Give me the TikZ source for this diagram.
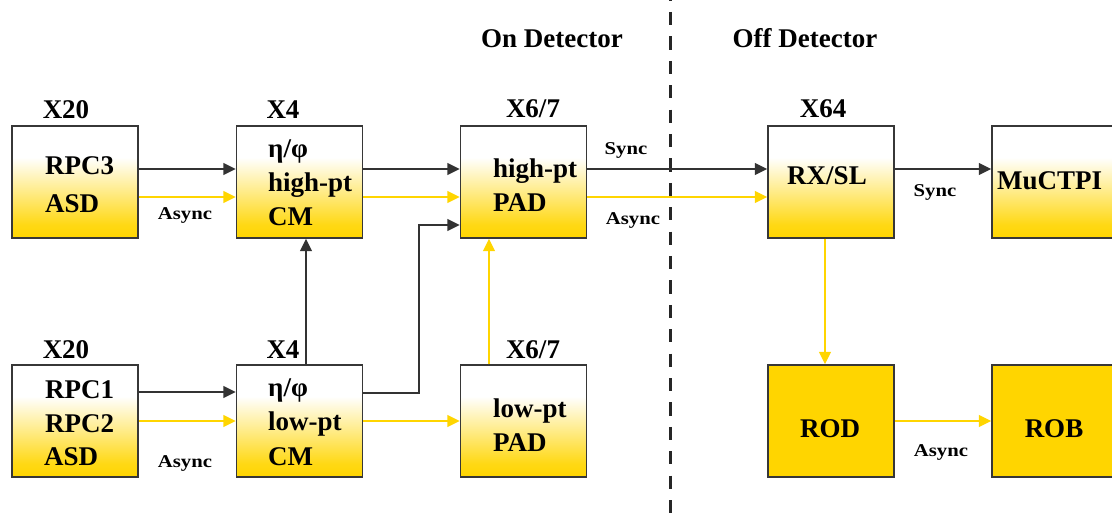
\documentclass[tikz,border=0pt]{standalone}
\usepackage{fontspec}
\setmainfont{Liberation Serif}
\usetikzlibrary{arrows.meta}
\definecolor{gold}{RGB}{255,213,0}
\definecolor{edge}{RGB}{55,55,55}
\pgfdeclareverticalshading{boxshade}{100bp}{color(0bp)=(gold); color(25bp)=(gold); color(31bp)=(gold!92!white); color(61bp)=(white); color(100bp)=(white)}
\newcommand{\bigtxt}{\fontsize{27}{30}\selectfont\bfseries}
\newcommand{\smalltxt}{\fontsize{18}{20}\selectfont\bfseries}
\tikzset{
  unit/.style={rectangle, draw=edge, line width=1.5pt, minimum width=126pt, minimum height=112pt, inner sep=0pt},
  gradbox/.style={unit, shade, shading=boxshade},
  solidbox/.style={unit, fill=gold},
  line/.style={anchor=base west, inner sep=0pt, font=\bigtxt},
  title/.style={anchor=base, inner sep=0pt, font=\bigtxt},
  tag/.style={anchor=base, inner sep=0pt, font=\smalltxt, xscale=1.15},
  tip/.style={-{Triangle[length=12.5pt,width=12pt]}},
  sig/.style={tip, draw=black!80, line width=1.7pt},
  asig/.style={tip, draw=gold, line width=1.5pt},
}
\begin{document}
\begin{tikzpicture}[x=1pt,y=-1pt]
\useasboundingbox (0,0) rectangle (1112,513);

% boundary between on- and off-detector electronics
\coordinate (cutTop) at (670,0);
\coordinate (cutBot) at (670,513);
\draw[line width=3pt, black!85, dash pattern=on 13.2pt off 11.2pt, dash phase=12.4pt] (cutTop) -- (cutBot);
\node[title] (on)  at (552,48) {On Detector};
\node[title] (off) at (805,48) {Off Detector};

% boxes, upper row
\node[gradbox] (rpc3) at (75,182) {};
\node[gradbox] (hcm)  at (299.5,182) {};
\node[gradbox] (hpad) at (523.5,182) {};
\node[gradbox] (rx)   at (831,182) {};
\node[gradbox] (mu)   at (1055,182) {};
% boxes, lower row
\node[gradbox]  (rpc12) at (75,421) {};
\node[gradbox]  (lcm)   at (299.5,421) {};
\node[gradbox]  (lpad)  at (523.5,421) {};
\node[solidbox] (rod)   at (831,421) {};
\node[solidbox] (rob)   at (1055,421) {};

% multiplicities
\node[title] (m1) at (66,119)  {X20};
\node[title] (m2) at (283,119) {X4};
\node[title] (m3) at (533,118) {X6/7};
\node[title] (m4) at (823,118) {X64};
\node[title] (m5) at (66,358)  {X20};
\node[title] (m6) at (283,358) {X4};
\node[title] (m7) at (533,358) {X6/7};

% box contents
\node[line] (t1a) at (45,175) {RPC3};
\node[line] (t1b) at (45,213) {ASD};
\node[line] (t2a) at (268,158) {η/φ};
\node[line] (t2b) at (268,192) {high-pt};
\node[line] (t2c) at (268,226) {CM};
\node[line] (t3a) at (493,178) {high-pt};
\node[line] (t3b) at (493,212) {PAD};
\node[title] (t4) at (827,185) {RX/SL};
\node[line] (t5) at (997,190) {MuCTPI};
\node[line] (t6a) at (45,398) {RPC1};
\node[line] (t6b) at (45,432) {RPC2};
\node[line] (t6c) at (44,465) {ASD};
\node[line] (t7a) at (268,396) {η/φ};
\node[line] (t7b) at (268,430) {low-pt};
\node[line] (t7c) at (268,465) {CM};
\node[line] (t8a) at (493,417) {low-pt};
\node[line] (t8b) at (493,451) {PAD};
\node[title] (t9)  at (830,437) {ROD};
\node[title] (t10) at (1054,437) {ROB};

% upper row links
\draw[sig]  ([yshift=13pt]rpc3.east) -- ([yshift=13pt]hcm.west);
\draw[asig] ([yshift=-15pt]rpc3.east) -- ([yshift=-15pt]hcm.west);
\draw[sig]  ([yshift=13pt]hcm.east) -- ([yshift=13pt]hpad.west);
\draw[asig] ([yshift=-15pt]hcm.east) -- ([yshift=-15pt]hpad.west);
\draw[sig]  ([yshift=13pt]hpad.east) -- ([yshift=13pt]rx.west);
\draw[asig] ([yshift=-15pt]hpad.east) -- ([yshift=-15pt]rx.west);
\draw[sig]  ([yshift=13pt]rx.east) -- ([yshift=13pt]mu.west);

% lower row links
\draw[sig]  ([yshift=29pt]rpc12.east) -- ([yshift=29pt]lcm.west);
\draw[asig] (rpc12.east) -- (lcm.west);
\draw[asig] (lcm.east) -- (lpad.west);
\draw[asig] (rod.east) -- (rob.west);

% links between rows
\coordinate (bend) at (419,393);
\draw[sig] ([yshift=28pt]lcm.east) -- (bend) |- ([yshift=-43pt]hpad.west);
\draw[sig]  ([xshift=6.5pt]lcm.north) -- ([xshift=6.5pt]hcm.south);
\draw[asig] ([xshift=-34.5pt]lpad.north) -- ([xshift=-34.5pt]hpad.south);
\draw[asig] ([xshift=-6pt]rx.south) -- ([xshift=-6pt]rod.north);

% link labels
\node[tag] (a1) at (185,220) {Async};
\node[tag] (a2) at (626,155) {Sync};
\node[tag] (a3) at (633,225) {Async};
\node[tag] (a4) at (935,197) {Sync};
\node[tag] (a5) at (185,467) {Async};
\node[tag] (a6) at (941,456) {Async};
\end{tikzpicture}
\end{document}
